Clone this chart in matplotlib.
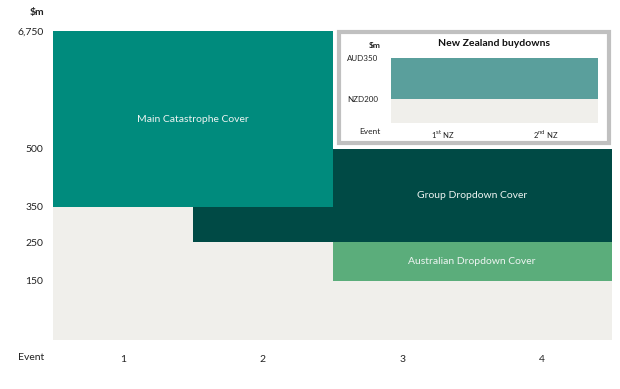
import numpy as np
import matplotlib
matplotlib.use("Agg")
import matplotlib.pyplot as plt
from matplotlib.patches import Rectangle

plt.rcParams['font.family'] = ['Lato', 'DejaVu Sans']

# ---- data ----
layer_names = ["Main Catastrophe Cover", "Group Dropdown Cover", "Australian Dropdown Cover"]
layer_start_event = [1, 2, 3]
layer_end_event = [2, 4, 4]
layer_lower = [350, 250, 150]
layer_upper = [6750, 500, 250]
layer_colors = ["#008B7D", "#004A45", "#5BAD7B"]
background_lower = 0
background_upper = 350
events = [1, 2, 3, 4]
y_ticks = [150, 250, 350, 500, 6750]
y_tick_labels = ["150", "250", "350", "500", "6,750"]

nz_events = ["1$^{\\mathrm{st}}$ NZ", "2$^{\\mathrm{nd}}$ NZ"]
nz_lower = 200
nz_upper = 350
nz_tick_labels = ["NZD200", "AUD350"]

# non-linear axis scale breakpoints (value -> display distance)
scale_vals = [0, 150, 250, 350, 500, 6750]
scale_pos = [0, 59, 98, 133, 191, 309]

def fwd(v):
    return np.interp(v, scale_vals, scale_pos)

def inv(p):
    return np.interp(p, scale_pos, scale_vals)

W, H = 620, 389
fig = plt.figure(figsize=(W / 100, H / 100), dpi=100)
ax = fig.add_axes([53 / W, 1 - 340 / H, (612 - 53) / W, (340 - 31) / H])
ax.set_yscale('function', functions=(fwd, inv))
ax.set_xlim(0.5, 4.5)
ax.set_ylim(0, 6750)

bg = "#F0EFEB"
ax.bar(np.mean(events), background_upper - background_lower, width=len(events),
       bottom=background_lower, color=bg, linewidth=0, zorder=1)

order = [1, 0, 2]
for i in order:
    s, e = layer_start_event[i], layer_end_event[i]
    ax.bar((s + e) / 2, layer_upper[i] - layer_lower[i], width=e - s + 1,
           bottom=layer_lower[i], color=layer_colors[i], linewidth=0, zorder=2 + order.index(i))
    # label placed over the part of the layer not hidden by the main cover
    vs = s if i == 0 else max(s, layer_end_event[0] + 1)
    ymid = inv((fwd(layer_lower[i]) + fwd(layer_upper[i])) / 2)
    ax.text((vs + e) / 2, ymid, layer_names[i], ha='center', va='center',
            color='#EEF4F2', fontsize=7.5, zorder=10)

for sp in ax.spines.values():
    sp.set_visible(False)
ax.set_yticks(y_ticks)
ax.set_yticklabels(y_tick_labels)
ax.set_xticks(events)
ax.set_xticklabels([str(e) for e in events])
ax.tick_params(axis='y', length=0, pad=7, labelsize=7.5, labelcolor='#222222')
ax.tick_params(axis='x', length=0, pad=11, labelsize=7.5, labelcolor='#222222')
ax.minorticks_off()

fig.text(44 / W, 1 - 13 / H, "$m", ha='right', va='center', fontsize=7.5,
         fontweight='bold', color='#222222')
fig.text(44 / W, 1 - 357 / H, "Event", ha='right', va='center', fontsize=7.5, color='#222222')

# ---- inset box ----
box = Rectangle((339 / W, 1 - 143 / H), (609 - 339) / W, (143 - 32) / H,
                transform=fig.transFigure, facecolor='white', edgecolor='#C0C0C0',
                linewidth=3, zorder=5)
fig.patches.append(box)

iax = fig.add_axes([391 / W, 1 - 123 / H, (598 - 391) / W, (123 - 58) / H], zorder=6)
iax.set_xlim(0.5, 2.5)
iax.set_ylim(112, 350)
iax.bar([1.5], nz_lower - 112, width=2, bottom=112, color=bg, linewidth=0)
iax.bar([1.5], nz_upper - nz_lower, width=2, bottom=nz_lower, color="#5A9F9C", linewidth=0)
for sp in iax.spines.values():
    sp.set_visible(False)
iax.set_yticks([nz_lower, nz_upper])
iax.set_yticklabels(nz_tick_labels)
iax.set_xticks([1, 2])
iax.set_xticklabels(nz_events)
iax.tick_params(axis='y', length=0, pad=9, labelsize=5.8, labelcolor='#222222')
iax.tick_params(axis='x', length=0, pad=4, labelsize=5.5, labelcolor='#222222')

fig.text(381 / W, 1 - 46 / H, "$m", ha='right', va='center', fontsize=6,
         fontweight='bold', color='#222222', zorder=7)
fig.text(381 / W, 1 - 131 / H, "Event", ha='right', va='center', fontsize=6,
         color='#222222', zorder=7)
fig.text(494 / W, 1 - 44 / H, "New Zealand buydowns", ha='center', va='center',
         fontsize=7.5, fontweight='bold', color='#111111', zorder=7)

fig.savefig("out.png", dpi=100)
